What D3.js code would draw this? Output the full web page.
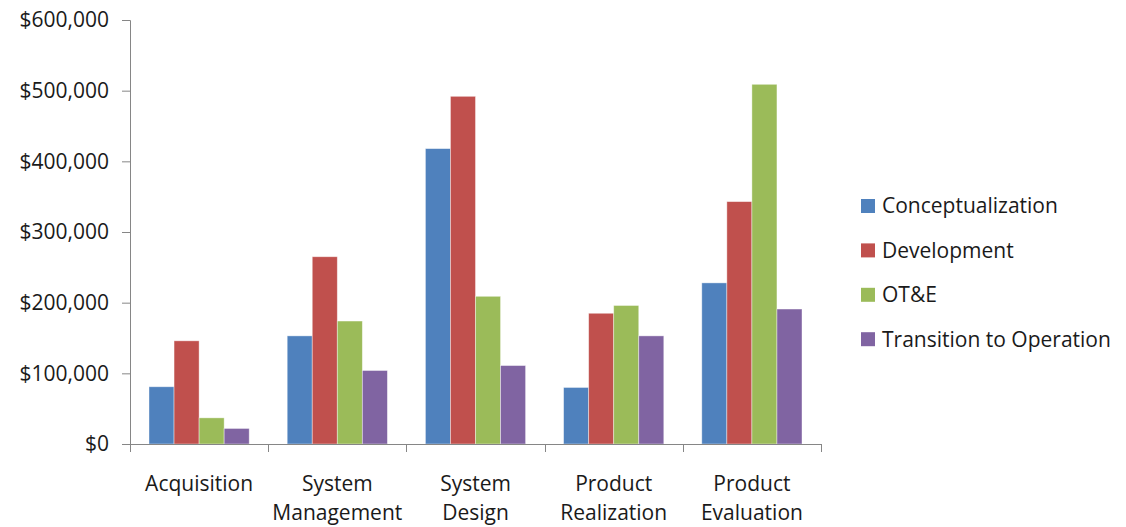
<!DOCTYPE html>
<html>
<head>
<meta charset="utf-8">
<script src="https://cdn.jsdelivr.net/npm/d3@7"></script>
<style>
  body { margin: 0; background: #fff; }
  svg text { font-family: "Open Sans", sans-serif; fill: #1a1a1a; }
</style>
</head>
<body>
<svg id="chart" width="1126" height="527"></svg>
<script>
// chart data
var categories = ["Acquisition", "System Management", "System Design", "Product Realization", "Product Evaluation"];
var categoryLines = [["Acquisition"], ["System", "Management"], ["System", "Design"], ["Product", "Realization"], ["Product", "Evaluation"]];
var seriesNames = ["Conceptualization", "Development", "OT&E", "Transition to Operation"];
var conceptualization = [81000, 153000, 418000, 80000, 228000];
var development = [146000, 265000, 492000, 185000, 343000];
var otAndE = [37000, 174000, 209000, 196000, 509000];
var transition = [22000, 104000, 111000, 153000, 191000];
var yTicks = [0, 100000, 200000, 300000, 400000, 500000, 600000];

var seriesValues = [conceptualization, development, otAndE, transition];
var colors = ["#4F81BD", "#C0504D", "#9BBB59", "#8064A2"];

var svg = d3.select("#chart");
var margin = { top: 20, left: 130, right: 305, bottom: 83 },
    width = 1126 - margin.left - margin.right,
    height = 527 - margin.top - margin.bottom;

var g = svg.append("g").attr("transform", "translate(" + margin.left + "," + margin.top + ")");

var x = d3.scaleBand()
    .domain(categories)
    .range([0, width])
    .paddingInner(0.275)
    .paddingOuter(0.1375);

var x1 = d3.scaleBand()
    .domain(seriesNames)
    .range([0, x.bandwidth()]);

var y = d3.scaleLinear()
    .domain([0, 600000])
    .range([height, 0]);

var fmt = function (d) { return "$" + d3.format(",")(d); };

// y axis
var yAxis = g.append("g")
    .call(d3.axisLeft(y).tickValues(yTicks).tickFormat(fmt).tickSize(8).tickPadding(13));
yAxis.selectAll("path, line").attr("stroke", "#868686");
yAxis.select(".domain").attr("d", "M-8,0.5H0.5V" + (height + 0.5));
yAxis.selectAll("text").style("font-size", "21px");

// bars
var groups = g.selectAll(".grp")
    .data(categories)
    .enter().append("g")
    .attr("transform", function (d) { return "translate(" + x(d) + ",0)"; });

groups.selectAll("rect")
    .data(function (d, i) {
        return seriesNames.map(function (s, j) { return { s: s, v: seriesValues[j][i], c: colors[j] }; });
    })
    .enter().append("rect")
    .attr("x", function (d) { return x1(d.s); })
    .attr("width", x1.bandwidth())
    .attr("y", function (d) { return y(d.v); })
    .attr("height", function (d) { return height - y(d.v); })
    .attr("fill", function (d) { return d.c; })
    .attr("stroke", "rgba(255,255,255,0.5)")
    .attr("stroke-width", 0.8);

// x axis with ticks at category boundaries
var bounds = d3.range(categories.length + 1).map(function (i) { return i * (width / categories.length); });
var xAxisG = g.append("g").attr("transform", "translate(0," + height + ")");
xAxisG.append("line")
    .attr("x1", 0).attr("x2", width)
    .attr("y1", 0.5).attr("y2", 0.5)
    .attr("stroke", "#868686");
xAxisG.selectAll(".tk")
    .data(bounds)
    .enter().append("line")
    .attr("x1", function (d) { return Math.round(d) + 0.5; })
    .attr("x2", function (d) { return Math.round(d) + 0.5; })
    .attr("y1", 0).attr("y2", 8)
    .attr("stroke", "#868686");

xAxisG.selectAll(".lbl")
    .data(categories)
    .enter().append("text")
    .attr("text-anchor", "middle")
    .style("font-size", "21px")
    .attr("transform", function (d) { return "translate(" + (x(d) + x.bandwidth() / 2) + ",0)"; })
    .each(function (d, i) {
        var t = d3.select(this);
        categoryLines[i].forEach(function (line, k) {
            t.append("tspan").attr("x", 0).attr("y", 47 + k * 29).text(line);
        });
    });

// legend
var legend = svg.append("g").attr("transform", "translate(861,206)");
var rows = legend.selectAll("g")
    .data(seriesNames)
    .enter().append("g")
    .attr("transform", function (d, i) { return "translate(0," + (i * 44.4) + ")"; });
rows.append("rect")
    .attr("x", 0).attr("y", -7)
    .attr("width", 14).attr("height", 14)
    .attr("fill", function (d, i) { return colors[i]; });
rows.append("text")
    .attr("x", 21)
    .attr("dy", "0.35em")
    .style("font-size", "21px")
    .text(function (d) { return d; });
</script>
</body>
</html>
